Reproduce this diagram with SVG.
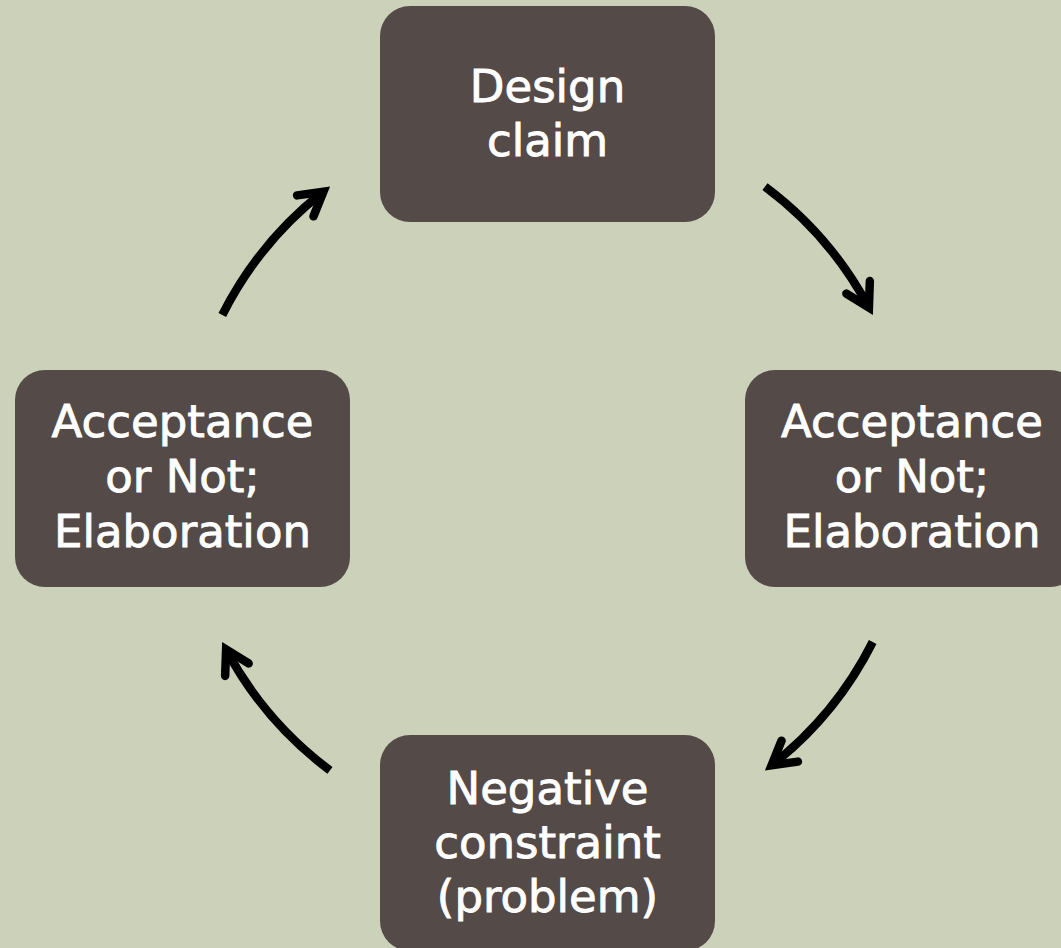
<svg xmlns="http://www.w3.org/2000/svg" width="1061" height="948" viewBox="0 0 1061 948">
  <style>
    .box { fill: #544a48; }
    .label { fill: #ffffff; stroke: #ffffff; stroke-width: 0.9px; font-family: "DejaVu Sans", "Liberation Sans", sans-serif; font-size: 45px; text-anchor: middle; }
    .arc { fill: none; stroke: #000000; stroke-width: 8.5; stroke-linecap: butt; }
  </style>
  <defs>
    <marker id="head" markerUnits="userSpaceOnUse" orient="auto" overflow="visible" markerWidth="1" markerHeight="1" refX="0" refY="0">
      <path d="M-23,-13.3 L0,0 L-23,13.3" fill="none" stroke="#000000" stroke-width="8.5" stroke-linejoin="miter" stroke-linecap="round"/>
    </marker>
  </defs>

  <rect x="0" y="0" width="1061" height="948" fill="#ccd1b9"/>

  <!-- cycle connectors: arcs on one circle around the centre -->
  <g id="connectors">
    <path class="arc" d="M765.0,186.6 A364,364 0 0 1 868.9,307.6" marker-end="url(#head)"/>
    <path class="arc" d="M872.7,642.0 A364,364 0 0 1 771.6,765.3" marker-end="url(#head)"/>
    <path class="arc" d="M330.0,770.4 A364,364 0 0 1 226.1,649.4" marker-end="url(#head)"/>
    <path class="arc" d="M222.3,315.0 A364,364 0 0 1 323.4,191.7" marker-end="url(#head)"/>
  </g>

  <g id="design-claim">
    <rect class="box" x="380" y="6" width="335" height="216" rx="30"/>
    <text class="label" x="547.5" y="102">Design</text>
    <text class="label" x="547.5" y="156">claim</text>
  </g>

  <g id="acceptance-right">
    <rect class="box" x="745" y="370" width="335" height="217" rx="30"/>
    <text class="label" x="912" y="437">Acceptance</text>
    <text class="label" x="912" y="492">or Not;</text>
    <text class="label" x="912" y="547">Elaboration</text>
  </g>

  <g id="negative-constraint">
    <rect class="box" x="380" y="735" width="335" height="216" rx="30"/>
    <text class="label" x="547.5" y="804">Negative</text>
    <text class="label" x="547.5" y="858">constraint</text>
    <text class="label" x="547.5" y="912">(problem)</text>
  </g>

  <g id="acceptance-left">
    <rect class="box" x="15" y="370" width="335" height="217" rx="30"/>
    <text class="label" x="182.5" y="437">Acceptance</text>
    <text class="label" x="182.5" y="492">or Not;</text>
    <text class="label" x="182.5" y="547">Elaboration</text>
  </g>
</svg>
